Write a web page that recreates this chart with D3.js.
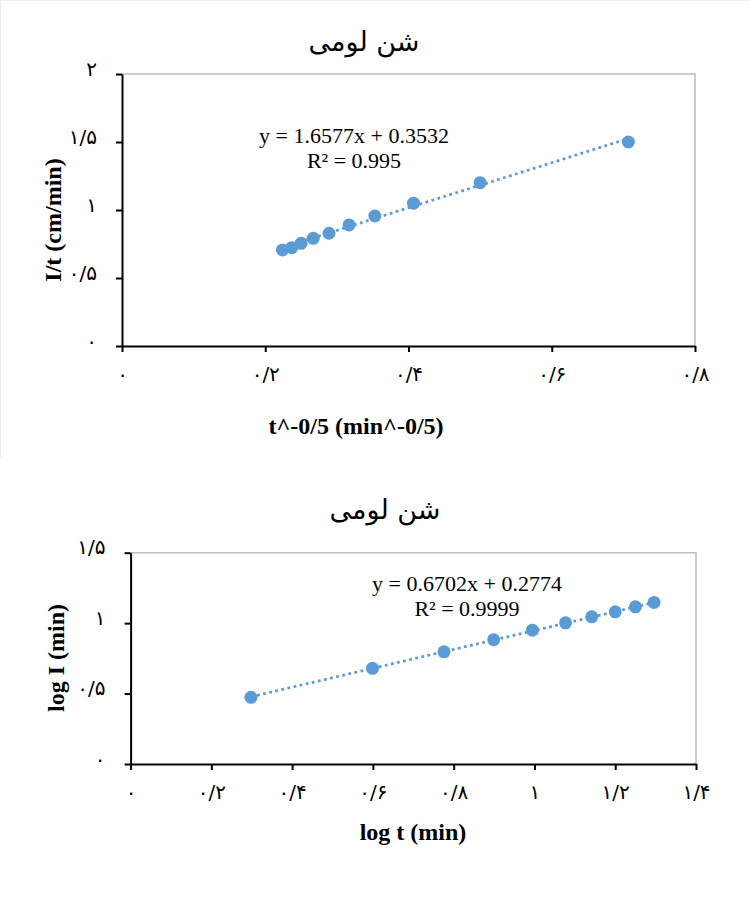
<!DOCTYPE html>
<html>
<head>
<meta charset="utf-8">
<script src="https://cdn.jsdelivr.net/npm/d3@7"></script>
<style>
  html, body { margin: 0; padding: 0; background: #ffffff; }
  svg { display: block; }
</style>
</head>
<body>
<svg id="chart" width="750" height="901"></svg>
<script>
// ---------------- DATA ----------------
const topTitle = "شن لومی";
const topXValues = [0.224, 0.237, 0.250, 0.267, 0.289, 0.317, 0.353, 0.407, 0.500, 0.707];
const topYValues = [0.706, 0.723, 0.755, 0.792, 0.829, 0.890, 0.956, 1.050, 1.201, 1.500];
const topXTicks = [0, 0.2, 0.4, 0.6, 0.8];
const topXTickLabels = ["۰", "۰/۲", "۰/۴", "۰/۶", "۰/۸"];
const topYTicks = [0, 0.5, 1, 1.5, 2];
const topYTickLabels = ["۰", "۰/۵", "۱", "۱/۵", "۲"];
const topTrend = [1.6577, 0.3532];           // slope, intercept
const topEquation = ["y = 1.6577x + 0.3532", "R² = 0.995"];
const topXTitle = "t^-0/5 (min^-0/5)";
const topYTitle = "I/t (cm/min)";

const bottomTitle = "شن لومی";
const bottomXValues = [0.298, 0.599, 0.776, 0.899, 0.995, 1.077, 1.142, 1.200, 1.250, 1.296];
const bottomYValues = [0.473, 0.679, 0.796, 0.882, 0.950, 1.002, 1.045, 1.080, 1.116, 1.147];
const bottomXTicks = [0, 0.2, 0.4, 0.6, 0.8, 1, 1.2, 1.4];
const bottomXTickLabels = ["۰", "۰/۲", "۰/۴", "۰/۶", "۰/۸", "۱", "۱/۲", "۱/۴"];
const bottomYTicks = [0, 0.5, 1, 1.5];
const bottomYTickLabels = ["۰", "۰/۵", "۱", "۱/۵"];
const bottomTrend = [0.6702, 0.2774];
const bottomEquation = ["y = 0.6702x + 0.2774", "R² = 0.9999"];
const bottomXTitle = "log t (min)";
const bottomYTitle = "log I (min)";

// ---------------- STYLE / LAYOUT ----------------
const COLOR = "#5b9bd5";
const SERIF = "'Liberation Serif', 'Times New Roman', serif";
const ARABIC = "'DejaVu Sans', sans-serif";
const TICK_FS = 20;

const svg = d3.select("#chart");

// faint chart-area frame of the upper chart
svg.append("line").attr("x1", 0.5).attr("y1", 0).attr("x2", 0.5).attr("y2", 458)
  .attr("stroke", "#ececec").attr("stroke-width", 1);
svg.append("line").attr("x1", 0).attr("y1", 0.5).attr("x2", 750).attr("y2", 0.5)
  .attr("stroke", "#f0f0f0").attr("stroke-width", 1);

function drawChart(cfg) {
  const g = svg.append("g");
  const x = d3.scaleLinear().domain(cfg.xDomain).range([cfg.left, cfg.right]);
  const y = d3.scaleLinear().domain(cfg.yDomain).range([cfg.bottom, cfg.top]);

  // gray top & right borders
  g.append("path")
    .attr("d", `M${cfg.left},${cfg.top}H${cfg.right}V${cfg.bottom}`)
    .attr("fill", "none").attr("stroke", "#bfbfbf").attr("stroke-width", 1.5);

  // X axis
  const xa = g.append("g").attr("transform", `translate(0,${cfg.bottom})`)
    .call(d3.axisBottom(x).tickValues(cfg.xTicks)
      .tickFormat((d, i) => cfg.xTickLabels[i]).tickSize(6).tickSizeOuter(0).tickPadding(0));
  xa.select(".domain").attr("stroke", "#000").attr("stroke-width", 2);
  xa.selectAll(".tick line").attr("stroke", "#000").attr("stroke-width", 2);
  xa.selectAll(".tick text").attr("y", cfg.xLabelOffset).attr("dy", "0")
    .attr("font-family", ARABIC).attr("font-size", TICK_FS).attr("fill", "#000");

  // Y axis
  const ya = g.append("g").attr("transform", `translate(${cfg.left},0)`)
    .call(d3.axisLeft(y).tickValues(cfg.yTicks)
      .tickFormat((d, i) => cfg.yTickLabels[i]).tickSize(6).tickSizeOuter(0).tickPadding(19));
  ya.select(".domain").attr("stroke", "#000").attr("stroke-width", 2);
  ya.selectAll(".tick line").attr("stroke", "#000").attr("stroke-width", 2);
  ya.selectAll(".tick text").attr("dy", "0.05em")
    .attr("font-family", ARABIC).attr("font-size", TICK_FS).attr("fill", "#000");

  // trendline
  const xs = d3.extent(cfg.xValues);
  const trend = xs.map(v => [v, cfg.trend[0] * v + cfg.trend[1]]);
  g.append("path")
    .attr("d", d3.line().x(d => x(d[0])).y(d => y(d[1]))(trend))
    .attr("fill", "none").attr("stroke", COLOR).attr("stroke-width", 2.75)
    .attr("stroke-dasharray", "2.75 3.5");

  // points
  g.selectAll("circle.pt").data(cfg.xValues.map((v, i) => [v, cfg.yValues[i]]))
    .enter().append("circle").attr("class", "pt")
    .attr("cx", d => x(d[0])).attr("cy", d => y(d[1])).attr("r", 6.5)
    .attr("fill", COLOR);

  // equation
  cfg.equation.forEach((t, i) => {
    g.append("text").attr("x", cfg.eqX).attr("y", cfg.eqY + i * 25)
      .attr("text-anchor", "middle").attr("font-family", SERIF).attr("font-size", 22)
      .attr("fill", "#000").text(t);
  });

  // title
  g.append("text").attr("x", cfg.titleX).attr("y", cfg.titleY)
    .attr("text-anchor", "middle").attr("font-family", ARABIC).attr("font-size", 27)
    .attr("fill", "#000").text(cfg.title);

  // axis titles
  g.append("text").attr("x", cfg.xTitleX).attr("y", cfg.xTitleY)
    .attr("text-anchor", "middle").attr("font-family", SERIF).attr("font-size", 24)
    .attr("font-weight", "bold").attr("fill", "#000").text(cfg.xTitle);
  g.append("text")
    .attr("transform", `translate(${cfg.yTitleX},${cfg.yTitleY}) rotate(-90)`)
    .attr("text-anchor", "middle").attr("font-family", SERIF).attr("font-size", 24)
    .attr("font-weight", "bold").attr("fill", "#000").text(cfg.yTitle);
}

drawChart({
  left: 122, right: 695, top: 74, bottom: 346,
  xDomain: [0, 0.8], yDomain: [0, 2],
  xValues: topXValues, yValues: topYValues,
  xTicks: topXTicks, xTickLabels: topXTickLabels,
  yTicks: topYTicks, yTickLabels: topYTickLabels,
  xLabelOffset: 35,
  trend: topTrend, equation: topEquation, eqX: 354, eqY: 143,
  title: topTitle, titleX: 364, titleY: 51,
  xTitle: topXTitle, xTitleX: 356, xTitleY: 434,
  yTitle: topYTitle, yTitleX: 61, yTitleY: 220
});

drawChart({
  left: 130.6, right: 696, top: 552.7, bottom: 764,
  xDomain: [0, 1.4], yDomain: [0, 1.5],
  xValues: bottomXValues, yValues: bottomYValues,
  xTicks: bottomXTicks, xTickLabels: bottomXTickLabels,
  yTicks: bottomYTicks, yTickLabels: bottomYTickLabels,
  xLabelOffset: 35,
  trend: bottomTrend, equation: bottomEquation, eqX: 467, eqY: 591,
  title: bottomTitle, titleX: 385, titleY: 519,
  xTitle: bottomXTitle, xTitleX: 413, xTitleY: 840,
  yTitle: bottomYTitle, yTitleX: 64, yTitleY: 658
});
</script>
</body>
</html>
